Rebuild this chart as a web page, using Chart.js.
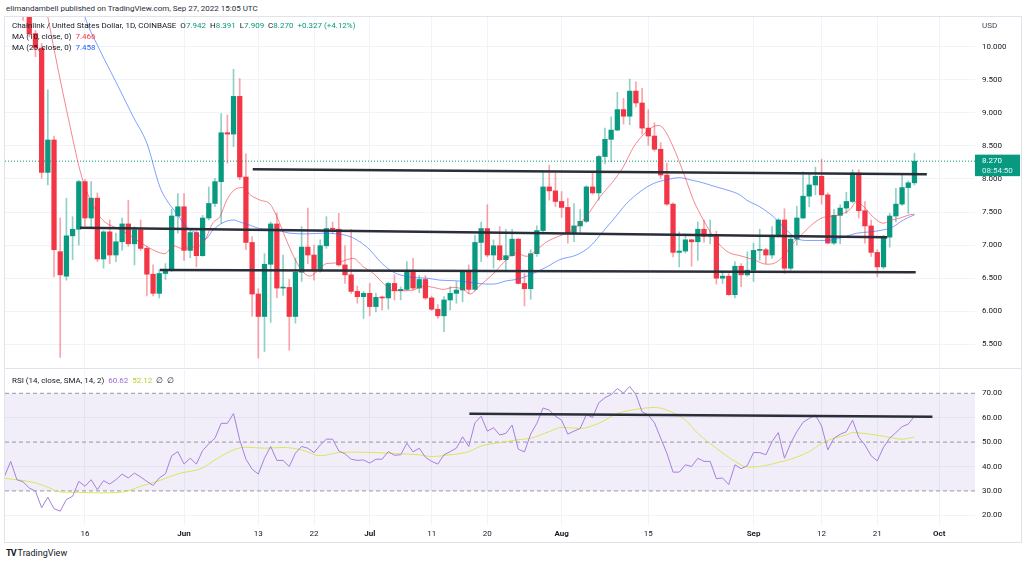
<!DOCTYPE html>
<html>
<head>
<meta charset="utf-8">
<title>Chainlink / United States Dollar, 1D, COINBASE</title>
<script src="https://cdn.jsdelivr.net/npm/chart.js@4.4.0/dist/chart.umd.min.js"></script>
<style>
  html, body { margin: 0; padding: 0; background: #fff; }
  body { width: 1024px; height: 565px; position: relative; overflow: hidden;
         font-family: Roboto, "Liberation Sans", sans-serif; color: #131722; }
  .abs { position: absolute; white-space: nowrap; font-size: 8px; line-height: 11px; }
  canvas { position: absolute; }
  #frame { position: absolute; left: 4px; top: 16px; width: 1016px; height: 525px; border: 1px solid #e0e3eb; }
  #sep { position: absolute; left: 5px; top: 368px; width: 1016px; height: 1px; background: #e0e3eb; }
  .g { color: #089981; }
</style>
</head>
<body>
<div id="frame"></div>
<div id="sep"></div>
<canvas id="price" width="1015" height="351" style="left:5px;top:17px"></canvas>
<canvas id="rsi" width="1015" height="172" style="left:5px;top:370px"></canvas>

<div class="abs" style="left:6px;top:3px;color:#2a2e39">elimandambell published on TradingView.com, Sep 27, 2022 15:05 UTC</div>
<div class="abs" style="left:12px;top:20px">Chainlink / United States Dollar, 1D, COINBASE&nbsp; O<span class="g">7.942</span>&nbsp; H<span class="g">8.391</span>&nbsp; L<span class="g">7.909</span>&nbsp; C<span class="g">8.270</span>&nbsp; <span class="g">+0.327 (+4.12%)</span></div>
<div class="abs" style="left:12px;top:31px">MA (10, close, 0)&nbsp; <span style="color:#f23645">7.466</span></div>
<div class="abs" style="left:12px;top:42px">MA (25, close, 0)&nbsp; <span style="color:#2962ff">7.458</span></div>
<div class="abs" style="left:982px;top:20px;color:#434651">USD</div>
<div class="abs" style="left:12px;top:375px">RSI (14, close, SMA, 14, 2)&nbsp; <span style="color:#9c6ade">60.62</span>&nbsp; <span style="color:#c0ca33">52.12</span>&nbsp; ∅&nbsp; ∅</div>
<div class="abs" style="left:6px;top:548px;font-size:9px"><b style="letter-spacing:-1px">TV</b> TradingView</div>

<script>
// day 0 = 16 May 2022, one candle per day from 3 May (day -13) to 27 Sep (day 134)
const firstDay = -13;

const open = [
  10.60, 11.00, 11.30, 10.75, 10.55, 10.20, 9.98, 8.10, 8.59, 6.90,
  6.53, 7.14, 7.24, 7.96, 7.41, 7.71, 6.79, 7.20, 6.85, 7.05,
  7.32, 7.02, 7.23, 6.95, 6.56, 6.27, 6.57, 6.63, 7.44, 7.58,
  6.92, 7.19, 6.84, 7.41, 7.63, 7.96, 8.70, 8.68, 9.25, 8.03,
  7.04, 6.26, 5.92, 6.71, 7.32, 6.35, 6.36, 5.92, 6.59, 6.97,
  6.85, 6.61, 6.99, 7.25, 7.24, 6.70, 6.55, 6.30, 6.22, 6.27,
  6.07, 6.21, 6.20, 6.42, 6.31, 6.33, 6.62, 6.35, 6.48, 6.20,
  6.03, 5.93, 6.17, 6.27, 6.32, 6.60, 6.33, 7.04, 7.25, 6.85,
  6.99, 6.78, 6.84, 7.09, 6.42, 6.34, 6.87, 7.22, 7.88, 7.82,
  7.66, 7.57, 7.18, 7.29, 7.36, 7.88, 7.79, 8.34, 8.60, 8.74,
  9.05, 8.95, 9.33, 9.15, 8.77, 8.65, 8.45, 8.06, 7.62, 6.89,
  6.91, 7.08, 7.05, 7.24, 7.13, 7.14, 6.50, 6.53, 6.25, 6.68,
  6.55, 6.62, 6.92, 6.93, 6.85, 7.15, 7.38, 6.65, 7.09, 7.41,
  7.74, 7.91, 8.04, 7.76, 7.03, 7.45, 7.56, 7.66, 8.09, 7.52,
  7.29, 6.89, 6.67, 7.12, 7.44, 7.62, 7.87, 7.942
];
const high = [
  11.10, 11.40, 11.35, 10.90, 10.70, 10.25, 10.05, 9.35, 8.65, 7.41,
  7.71, 7.43, 7.98, 7.99, 7.96, 7.79, 7.22, 7.38, 7.18, 7.41,
  7.68, 7.28, 7.38, 6.98, 6.70, 6.63, 6.72, 7.54, 7.78, 7.78,
  7.23, 7.23, 7.45, 7.88, 8.01, 8.99, 8.97, 9.66, 9.52, 8.38,
  7.13, 6.34, 6.87, 7.35, 7.49, 6.85, 6.48, 6.80, 7.28, 7.56,
  7.00, 7.08, 7.43, 7.35, 7.48, 6.99, 7.24, 6.38, 6.30, 6.42,
  6.27, 6.23, 6.44, 6.55, 6.37, 6.75, 6.80, 6.54, 6.54, 6.23,
  6.10, 6.22, 6.37, 6.45, 6.62, 6.70, 7.15, 7.35, 7.61, 7.08,
  7.28, 7.24, 7.24, 7.10, 6.57, 6.93, 7.29, 8.11, 8.21, 8.09,
  7.81, 7.71, 7.63, 7.54, 7.90, 8.11, 8.36, 8.77, 8.94, 9.31,
  9.22, 9.51, 9.47, 9.37, 9.05, 8.85, 8.55, 8.24, 7.64, 7.20,
  7.17, 7.09, 7.35, 7.38, 7.38, 7.21, 6.61, 6.57, 6.75, 6.72,
  6.90, 7.03, 7.24, 6.95, 7.28, 7.40, 7.55, 7.12, 7.59, 8.11,
  8.09, 8.18, 8.30, 7.79, 7.54, 7.61, 7.80, 8.14, 8.14, 7.66,
  7.38, 6.93, 7.15, 7.48, 7.86, 8.06, 7.97, 8.391
];
const low = [
  10.50, 10.80, 10.60, 10.40, 10.15, 9.85, 8.01, 7.91, 6.52, 5.30,
  6.47, 6.78, 7.00, 7.29, 7.28, 6.75, 6.65, 6.72, 6.75, 6.92,
  6.98, 6.70, 6.92, 6.23, 6.23, 6.20, 6.48, 6.60, 7.18, 6.77,
  6.81, 6.67, 6.83, 7.38, 7.58, 7.33, 8.24, 8.49, 7.99, 6.93,
  5.92, 5.29, 5.39, 5.83, 6.20, 6.24, 5.41, 5.82, 6.45, 6.72,
  6.47, 6.59, 6.95, 7.18, 6.68, 6.42, 6.27, 6.12, 5.89, 5.93,
  5.99, 6.02, 6.03, 6.17, 6.17, 6.32, 6.32, 6.28, 6.18, 6.01,
  5.89, 5.69, 6.02, 6.12, 6.14, 6.27, 6.31, 6.75, 6.82, 6.65,
  6.76, 6.62, 6.83, 6.41, 6.08, 6.18, 6.83, 7.19, 7.68, 7.58,
  7.42, 7.03, 7.05, 7.17, 7.34, 7.77, 7.68, 8.23, 8.26, 8.73,
  8.83, 8.82, 9.09, 8.68, 8.51, 8.42, 8.01, 7.60, 6.82, 6.67,
  6.88, 6.68, 6.77, 7.04, 7.02, 6.41, 6.42, 6.24, 6.20, 6.37,
  6.53, 6.45, 6.77, 6.72, 6.80, 7.12, 6.57, 6.62, 7.00, 7.40,
  7.58, 7.76, 7.62, 7.02, 7.01, 7.02, 7.48, 7.64, 7.41, 7.03,
  6.83, 6.52, 6.64, 6.97, 7.35, 7.60, 7.48, 7.909
];
const close = [
  11.00, 11.30, 10.75, 10.55, 10.20, 9.98, 8.10, 8.59, 6.93, 6.55,
  7.14, 7.24, 7.96, 7.41, 7.71, 6.79, 7.20, 6.85, 7.05, 7.32,
  7.02, 7.23, 6.95, 6.56, 6.27, 6.57, 6.63, 7.44, 7.58, 6.92,
  7.19, 6.84, 7.41, 7.63, 7.96, 8.70, 8.68, 9.25, 8.03, 7.04,
  6.26, 5.92, 6.71, 7.32, 6.35, 6.36, 5.92, 6.59, 6.97, 6.85,
  6.61, 6.99, 7.25, 7.24, 6.70, 6.55, 6.30, 6.22, 6.27, 6.07,
  6.21, 6.20, 6.42, 6.31, 6.33, 6.62, 6.35, 6.48, 6.20, 6.03,
  5.93, 6.17, 6.27, 6.32, 6.60, 6.33, 7.04, 7.25, 6.85, 6.99,
  6.78, 6.84, 7.09, 6.42, 6.34, 6.87, 7.22, 7.88, 7.82, 7.66,
  7.57, 7.18, 7.29, 7.36, 7.88, 7.79, 8.34, 8.60, 8.74, 9.05,
  8.95, 9.33, 9.15, 8.77, 8.65, 8.45, 8.06, 7.62, 6.89, 6.91,
  7.08, 7.05, 7.24, 7.13, 7.14, 6.50, 6.53, 6.25, 6.68, 6.55,
  6.62, 6.92, 6.93, 6.85, 7.15, 7.38, 6.65, 7.09, 7.41, 7.74,
  7.91, 8.04, 7.76, 7.03, 7.45, 7.56, 7.66, 8.09, 7.52, 7.29,
  6.89, 6.67, 7.12, 7.44, 7.62, 7.87, 7.942, 8.270
];
const rsi = [
  36.0, 42.1, 34.6, 33.7, 31.2, 29.9, 23.1, 27.4, 22.7, 21.7,
  26.5, 27.8, 33.9, 31.9, 34.6, 30.5, 34.2, 32.8, 34.6, 36.9,
  35.3, 37.3, 35.7, 33.9, 32.2, 35.3, 37.0, 44.4, 46.1, 41.0,
  43.4, 41.0, 46.5, 49.3, 51.6, 57.7, 57.7, 61.7, 50.9, 43.0,
  38.9, 36.9, 43.4, 48.2, 42.5, 42.5, 40.0, 45.5, 48.2, 47.5,
  45.7, 48.8, 51.2, 51.2, 46.4, 45.2, 43.0, 42.5, 42.7, 41.4,
  43.0, 43.0, 46.1, 44.6, 44.8, 49.5, 46.0, 47.5, 43.8, 42.1,
  41.0, 44.8, 46.1, 47.5, 52.2, 48.2, 57.9, 60.6, 54.5, 55.9,
  52.9, 53.6, 57.0, 47.1, 46.0, 53.3, 57.7, 64.0, 63.1, 60.6,
  59.0, 53.3, 54.5, 55.6, 61.3, 60.1, 66.1, 68.2, 69.5, 71.9,
  70.1, 72.8, 69.5, 62.4, 61.1, 57.9, 51.6, 45.5, 37.7, 37.7,
  40.7, 40.0, 43.4, 42.1, 42.1, 35.0, 35.3, 32.6, 40.7, 39.1,
  40.4, 45.7, 45.7, 44.8, 50.2, 53.9, 43.4, 49.5, 54.3, 58.1,
  59.7, 61.1, 56.6, 46.8, 51.6, 53.2, 54.3, 59.0, 52.0, 48.8,
  44.4, 42.3, 47.9, 51.6, 53.9, 56.3, 57.4, 60.62
];

// moving averages at these days
const ma10Days = [-7, -6, -4, -2, -1, 0, 1, 2.4, 3.5, 4.6, 6.7, 8.3, 10, 11.6, 12.9, 14.3, 15.6, 17.5, 19.1, 20.7,
  21.8, 22.9, 24.2, 25.6, 26.7, 28.3, 29.9, 31, 32.3, 33.7, 35, 36.3, 37.7, 39, 40.7, 42.3, 43.3, 45, 46.6, 48.2,
  49.8, 51.4, 53, 54.7, 56.3, 57.9, 59.5, 61.1, 62.2, 63.8, 66, 68.1, 69.7, 71.3, 73, 74.6, 76.7, 78.3, 80, 81.6,
  83.2, 85.3, 87, 88.6, 90.2, 91.8, 92.6, 93.4, 95, 96.7, 98.3, 99.9, 101.5, 103.1, 104.2, 105.8, 108, 110.1, 111.2, 112.8,
  114.4, 116, 117.7, 119.3, 120.9, 122.5, 123.6, 124.7, 125.7, 127.4, 129, 130, 131.7, 133.3, 134];
const ma10 = [10.95, 10.45, 9.50, 8.62, 8.20, 7.88, 7.66, 7.43, 7.33, 7.28, 7.18, 7.08, 6.98, 6.90, 6.87, 6.99, 6.95, 6.97, 7.03, 7.34,
  7.43, 7.68, 7.84, 7.87, 7.76, 7.68, 7.62, 7.43, 7.13, 6.83, 6.62, 6.53, 6.62, 6.72, 6.73, 6.78, 6.80, 6.67, 6.57, 6.42,
  6.31, 6.31, 6.32, 6.38, 6.36, 6.33, 6.36, 6.33, 6.26, 6.39, 6.57, 6.78, 6.88, 6.83, 6.93, 7.05, 7.14, 7.20, 7.33, 7.51,
  7.73, 7.96, 8.19, 8.48, 8.67, 8.79, 8.81, 8.77, 8.49, 8.09, 7.68, 7.38, 7.13, 6.95, 6.88, 6.84, 6.78, 6.71, 6.72, 6.83,
  7.03, 7.18, 7.33, 7.42, 7.44, 7.48, 7.54, 7.66, 7.59, 7.42, 7.33, 7.37, 7.41, 7.46, 7.466];
const ma25Days = [-1, 0, 2.4, 5.1, 7.8, 10, 12.1, 13.2, 14.8, 16.4, 18, 19.4, 20.7, 22.3, 24, 25, 26.7, 28.3, 30.4, 33.1,
  35.8, 38.5, 40.7, 42.8, 44.4, 46, 47.7, 49.3, 50.9, 53, 55.2, 57.3, 60, 62.7, 64.9, 66, 68.1, 69.7, 71.9, 74.6,
  76.7, 79.4, 81.6, 83.2, 85.3, 87.5, 89.7, 91.8, 94, 96.1, 97.7, 99.9, 102, 104.2, 105.8, 106.9, 109, 111.2, 113.3, 115,
  116.6, 118.7, 120.9, 122.5, 124.7, 126.8, 129, 130.6, 132.2, 134];
const ma25 = [10.80, 10.45, 9.95, 9.45, 8.94, 8.54, 7.88, 7.68, 7.48, 7.28, 7.18, 7.09, 7.23, 7.34, 7.38, 7.35, 7.30, 7.25, 7.24, 7.18,
  7.17, 7.18, 7.17, 7.13, 7.05, 6.93, 6.75, 6.62, 6.55, 6.51, 6.50, 6.47, 6.46, 6.43, 6.41, 6.41, 6.46, 6.48, 6.55, 6.67,
  6.78, 6.85, 6.98, 7.15, 7.38, 7.63, 7.81, 7.93, 7.99, 8.02, 7.99, 7.94, 7.88, 7.82, 7.76, 7.68, 7.58, 7.43, 7.23, 7.10,
  7.07, 7.07, 7.08, 7.12, 7.18, 7.20, 7.23, 7.28, 7.38, 7.458];
const rsiMaDays = [-13, -8, -6, -4, -1, 2, 6, 9, 12, 15, 19, 21, 24, 26, 29, 32, 35, 38, 41, 43,
  47, 51, 54, 56, 59, 62, 64, 67, 70, 72, 75, 77, 80, 83, 86, 89, 92, 94, 97, 99,
  102, 105, 107, 109, 112, 114, 117, 119, 121, 123, 124, 127, 129.5, 132, 134];
const rsiMa = [35.2, 33.3, 31.5, 29.6, 29.4, 29.2, 29.5, 31.9, 34.2, 37.0, 39.4, 42.7, 46.8, 47.9, 47.5, 47.8, 46.8, 44.4, 45.7, 45.9,
  45.7, 45.2, 44.8, 44.1, 44.8, 46.1, 48.4, 49.8, 51.0, 51.6, 54.3, 56.0, 55.6, 57.7, 61.7, 63.4, 64.2, 63.1, 59.0, 53.6,
  47.5, 42.1, 39.8, 40.0, 41.7, 43.0, 46.1, 49.5, 51.6, 52.9, 53.9, 53.2, 52.2, 51.2, 52.12];

// hand-drawn levels (start day, end day, start value, end value)
const priceLines = [
  { from: 27.1, to: 136.0, start: 8.146, end: 8.070 },
  { from: -0.8, to: 129.6, start: 7.263, end: 7.118 },
  { from: 12.1, to: 134.2, start: 6.623, end: 6.590 }
];
const rsiLines = [ { from: 62.1, to: 136.9, start: 61.6, end: 60.4 } ];

const tickDays = [0, 16, 28, 37, 46, 56, 65, 77, 91, 108, 119, 128, 138];
const tickLabels = ['16', 'Jun', '13', '22', 'Jul', '11', '20', 'Aug', '15', 'Sep', '12', '21', 'Oct'];
const monthLabels = ['Jun', 'Jul', 'Aug', 'Sep', 'Oct'];
const priceTicks = [5.5, 6, 6.5, 7, 7.5, 8, 8.5, 9, 9.5, 10];
const rsiTicks = [20, 30, 40, 50, 60, 70];
const rsiLevels = [70, 50, 30];

const xMin = -12.92, xMax = 143.78;
const up = '#089981', down = '#f23645';
const font = { family: 'Roboto, "Liberation Sans", sans-serif', size: 8 };
const days = open.map((_, i) => firstDay + i);
const isUp = i => close[i] >= open[i];
const lastClose = close[close.length - 1];
const pts = (xs, ys) => xs.map((x, i) => ({ x, y: ys[i] }));
const seg = l => [{ x: l.from, y: l.start }, { x: l.to, y: l.end }];

const lastLabel = {
  id: 'lastLabel',
  afterDraw(chart) {
    const { ctx, chartArea, scales } = chart;
    const y = scales.y.getPixelForValue(lastClose);
    ctx.save();
    ctx.fillStyle = up;
    ctx.fillRect(chartArea.right, y - 6.5, 45, 21.5);
    ctx.fillStyle = '#fff';
    ctx.font = '8px ' + font.family;
    ctx.textBaseline = 'middle';
    ctx.fillText(lastClose.toFixed(3), chartArea.right + 7, y);
    ctx.fillStyle = 'rgba(255,255,255,0.85)';
    ctx.fillText('08:54:50', chartArea.right + 7, y + 10);
    ctx.restore();
  }
};

new Chart(document.getElementById('price'), {
  type: 'bar',
  data: {
    datasets: [
      ...priceLines.map(l => ({
        type: 'line', data: seg(l), borderColor: '#2a2e39', borderWidth: 2.5,
        pointRadius: 0, order: 0
      })),
      {
        type: 'line', label: 'MA 10', data: pts(ma10Days, ma10), borderColor: 'rgba(242,54,69,0.6)',
        borderWidth: 1, pointRadius: 0, cubicInterpolationMode: 'monotone', order: 1
      },
      {
        type: 'line', label: 'MA 25', data: pts(ma25Days, ma25), borderColor: 'rgba(41,98,255,0.6)',
        borderWidth: 1, pointRadius: 0, cubicInterpolationMode: 'monotone', order: 1
      },
      {
        label: 'body', data: days.map((d, i) => ({ x: d, y: [open[i], close[i]] })),
        backgroundColor: c => isUp(c.dataIndex) ? up : down,
        barThickness: 4.6, minBarLength: 1, grouped: false, order: 2
      },
      {
        label: 'wick', data: days.map((d, i) => ({ x: d, y: [low[i], high[i]] })),
        backgroundColor: c => isUp(c.dataIndex) ? 'rgba(8,153,129,0.45)' : 'rgba(242,54,69,0.45)',
        barThickness: 1, grouped: false, order: 3
      },
      {
        type: 'line', data: [{ x: xMin, y: lastClose }, { x: xMax, y: lastClose }], borderColor: up,
        borderWidth: 1, borderDash: [1, 2], pointRadius: 0, order: 4
      }
    ]
  },
  options: {
    responsive: false,
    animation: false,
    events: [],
    layout: { padding: 0 },
    plugins: { legend: { display: false }, tooltip: { enabled: false } },
    scales: {
      x: {
        type: 'linear', min: xMin, max: xMax, offset: false,
        afterBuildTicks: s => { s.ticks = tickDays.map(v => ({ value: v })); },
        ticks: { display: false },
        grid: { color: '#f0f3fa', drawTicks: false, offset: false },
        border: { display: false },
        afterFit: s => { s.height = 0; }
      },
      y: {
        position: 'right', min: 5.1407, max: 10.4508,
        afterBuildTicks: s => { s.ticks = priceTicks.map(v => ({ value: v })); },
        ticks: { callback: v => v.toFixed(3), color: '#131722', font, padding: 7 },
        grid: { color: '#f0f3fa', drawTicks: false },
        border: { display: false },
        afterFit: s => { s.width = 45; s.paddingTop = 0; s.paddingBottom = 0; }
      }
    }
  },
  plugins: [lastLabel]
});

new Chart(document.getElementById('rsi'), {
  type: 'line',
  data: {
    datasets: [
      ...rsiLines.map(l => ({
        data: seg(l), borderColor: '#2a2e39', borderWidth: 2.5, pointRadius: 0, order: 0
      })),
      { label: 'RSI', data: pts(days, rsi), borderColor: '#a77fdd', borderWidth: 1, pointRadius: 0, order: 1 },
      {
        label: 'RSI MA', data: pts(rsiMaDays, rsiMa), borderColor: '#dbe45c', borderWidth: 1,
        pointRadius: 0, cubicInterpolationMode: 'monotone', order: 2
      },
      ...rsiLevels.map(v => ({
        data: [{ x: xMin, y: v }, { x: xMax, y: v }], borderColor: '#9598a1', borderWidth: 1,
        borderDash: [4, 3], pointRadius: 0, order: 3
      })),
      {
        data: [{ x: xMin, y: rsiLevels[2] }, { x: xMax, y: rsiLevels[2] }], borderWidth: 0,
        pointRadius: 0, fill: { value: rsiLevels[0] }, backgroundColor: 'rgba(126,87,194,0.1)', order: 4
      }
    ]
  },
  options: {
    responsive: false,
    animation: false,
    events: [],
    layout: { padding: 0 },
    plugins: { legend: { display: false }, tooltip: { enabled: false } },
    scales: {
      x: {
        type: 'linear', min: xMin, max: xMax, offset: false,
        afterBuildTicks: s => { s.ticks = tickDays.map(v => ({ value: v })); },
        ticks: {
          callback: (v, i) => tickLabels[i], color: '#131722', padding: 4,
          maxRotation: 0, autoSkip: false,
          font: c => ({ ...font, weight: monthLabels.includes(tickLabels[c.index]) ? 'bold' : 'normal' })
        },
        grid: { color: '#f0f3fa', drawTicks: false },
        border: { display: false },
        afterFit: s => { s.height = 17; s.paddingLeft = 0; s.paddingRight = 0; }
      },
      y: {
        position: 'right', min: 16.03, max: 79.55,
        afterBuildTicks: s => { s.ticks = rsiTicks.map(v => ({ value: v })); },
        ticks: { callback: v => v.toFixed(2), color: '#131722', font, padding: 7 },
        grid: { color: c => rsiLevels.includes(c.tick.value) ? 'rgba(0,0,0,0)' : '#f0f3fa', drawTicks: false },
        border: { display: false },
        afterFit: s => { s.width = 45; s.paddingTop = 0; s.paddingBottom = 0; }
      }
    }
  }
});
</script>
</body>
</html>
